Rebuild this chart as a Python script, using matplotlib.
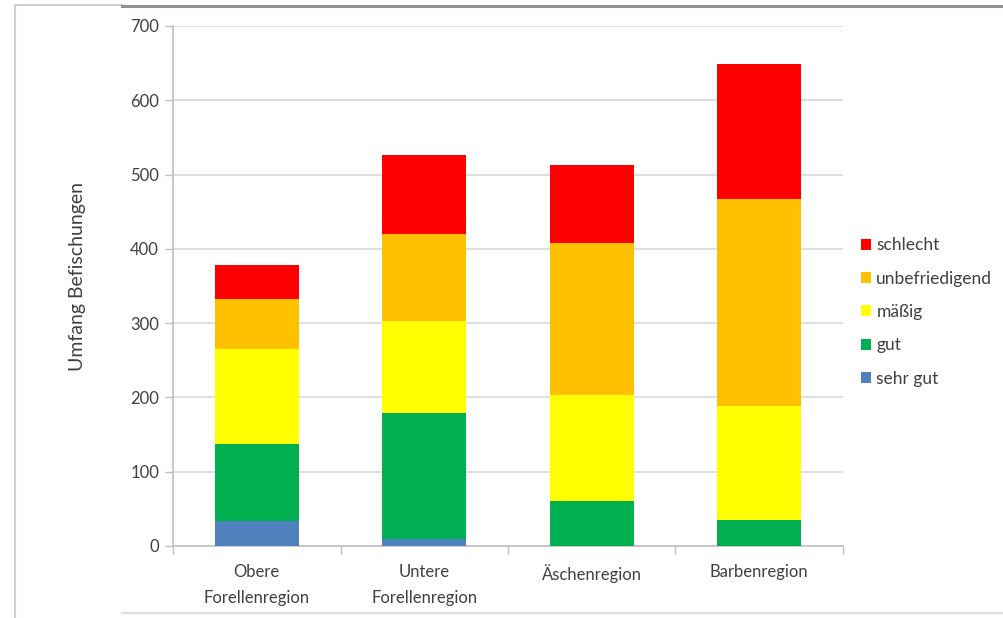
import matplotlib
matplotlib.use("Agg")
import matplotlib.pyplot as plt
from matplotlib.lines import Line2D
import numpy as np

plt.rcParams['font.family'] = ['Lato', 'DejaVu Sans']

regions = ["Obere\nForellenregion", "Untere\nForellenregion", "Äschenregion", "Barbenregion"]
sehr_gut = [34, 10, 0, 0]
gut = [103, 169, 61, 35]
maessig = [128, 124, 142, 153]
unbefriedigend = [67, 117, 205, 279]
schlecht = [46, 106, 105, 182]

series = [
    ("sehr gut", sehr_gut, "#4F81BD"),
    ("gut", gut, "#00B050"),
    ("mäßig", maessig, "#FFFF00"),
    ("unbefriedigend", unbefriedigend, "#FFC000"),
    ("schlecht", schlecht, "#FF0000"),
]

fig = plt.figure(figsize=(10.04, 6.18), dpi=100)
ax = fig.add_axes([173 / 1004, 1 - 546 / 618, 670 / 1004, 520 / 618])

x = np.arange(len(regions))
bottom = np.zeros(len(regions))
handles = []
for name, vals, col in series:
    b = ax.bar(x, vals, width=0.5, bottom=bottom, color=col, label=name, zorder=3)
    handles.append(b)
    bottom += np.array(vals)

ax.set_xlim(-0.5, len(regions) - 0.5)
ax.set_ylim(0, 700)
ax.set_yticks(range(0, 701, 100))
ax.yaxis.grid(True, color="#D9D9D9", linewidth=1.2, zorder=0)

# category axis ticks sit between the groups
ax.set_xticks(x)
ax.set_xticklabels(regions, fontsize=12, color="#404040", linespacing=1.75)
ax.tick_params(axis="x", length=0, pad=13)
ax.set_xticks(np.arange(-0.5, len(regions)), minor=True)
ax.tick_params(axis="x", which="minor", length=6, color="#BFBFBF", width=1)
ax.tick_params(axis="y", length=6, color="#BFBFBF", width=1, labelsize=12,
               labelcolor="#404040", pad=4)

for side in ["top", "right"]:
    ax.spines[side].set_visible(False)
for side in ["left", "bottom"]:
    ax.spines[side].set_color("#BFBFBF")
    ax.spines[side].set_linewidth(1.2)

ax.set_ylabel("Umfang Befischungen", fontsize=14, color="#404040", labelpad=22)
ax.yaxis.set_label_coords(-0.13, 0.518)

ax.legend(handles[::-1], [s[0] for s in series][::-1], loc="center left",
          bbox_to_anchor=(1.003, 0.45), frameon=False, fontsize=12.5,
          handlelength=0.6, handleheight=0.6, handletextpad=0.3,
          labelspacing=1.0, labelcolor="#404040")

# outer chart frame
fig.add_artist(Line2D([15 / 1004, 15 / 1004], [0, 1 - 5 / 618], color="#D0D0D0", lw=1.5))
fig.add_artist(Line2D([15 / 1004, 122 / 1004], [1 - 5 / 618, 1 - 5 / 618], color="#D0D0D0", lw=1.5))
fig.add_artist(Line2D([122 / 1004, 1003 / 1004], [1 - 6 / 618, 1 - 6 / 618], color="#909090", lw=2.2))
fig.add_artist(Line2D([122 / 1004, 1], [1 - 613 / 618, 1 - 613 / 618], color="#DDDDDD", lw=1.5))

fig.savefig("out.png", dpi=100)
